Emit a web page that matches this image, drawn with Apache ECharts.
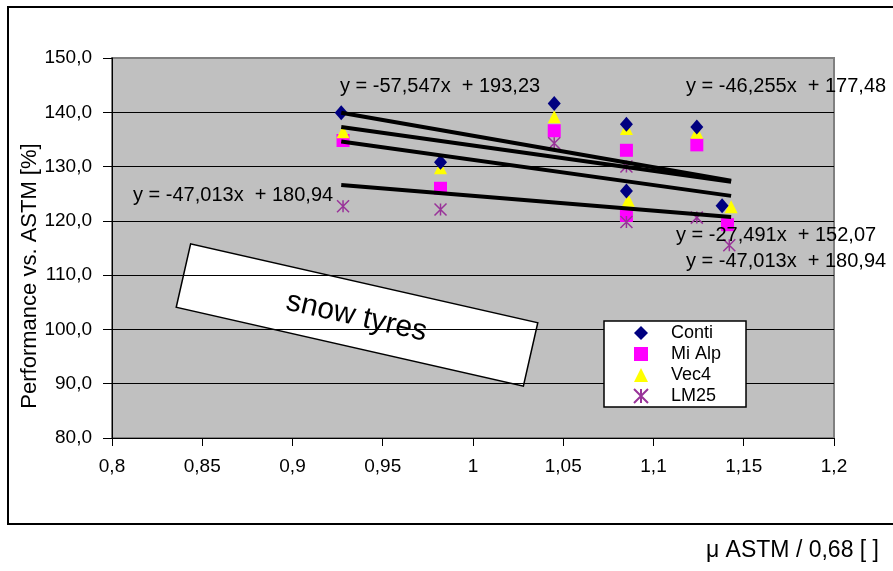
<!DOCTYPE html>
<html><head><meta charset="utf-8">
<script src="https://cdn.jsdelivr.net/npm/echarts@6/dist/echarts.min.js"></script>
<style>html,body{margin:0;padding:0;background:#fff}#c{width:893px;height:571px}</style>
</head><body><div id="c"></div>
<script>
const FONT = '"Liberation Sans", Arial, sans-serif';
const seriesNames = ['Conti', 'Mi Alp', 'Vec4', 'LM25'];
const contiX = [0.927, 0.982, 1.045, 1.085, 1.085, 1.124, 1.138];
const contiY = [139.9, 130.8, 141.6, 137.8, 125.5, 137.3, 122.8];
const miAlpX = [0.928, 0.982, 1.045, 1.085, 1.085, 1.124, 1.141];
const miAlpY = [134.8, 126.0, 136.6, 133.0, 121.0, 134.0, 119.3];
const vec4X = [0.928, 0.982, 1.045, 1.085, 1.086, 1.124, 1.143];
const vec4Y = [136.4, 129.8, 139.2, 137.0, 123.8, 136.3, 122.6];
const lm25X = [0.928, 0.982, 1.045, 1.085, 1.085, 1.124, 1.142];
const lm25Y = [122.7, 122.1, 134.3, 130.0, 119.8, 120.6, 115.5];
// trend line endpoints
const trendX = [0.927, 1.143];
const trendContiY = [139.9, 127.4];
const trendVec4Y = [137.3, 127.2];
const trendMiAlpY = [134.6, 124.6];
const trendLm25Y = [126.6, 120.7];
const equations = [
  'y = -57,547x  + 193,23',
  'y = -46,255x  + 177,48',
  'y = -47,013x  + 180,94',
  'y = -27,491x  + 152,07',
  'y = -47,013x  + 180,94'
];
const xLabel = 'μ ASTM / 0,68 [ ]';
const yLabel = 'Performance vs. ASTM [%]';
const boxText = 'snow tyres';

const zip = (xs, ys) => xs.map((x, i) => [x, ys[i]]);
const chart = echarts.init(document.getElementById('c'), null, {renderer: 'canvas'});
const trend = (ys) => ({
  type: 'line', data: zip(trendX, ys), showSymbol: false, symbol: 'none',
  lineStyle: {color: '#000', width: 4}, z: 5, silent: true, animation: false
});
const eqText = (i, x, y) => ({
  type: 'text', left: x, top: y, z: 100,
  style: {text: equations[i], font: '20px ' + FONT, fill: '#000'}
});
chart.setOption({
  animation: false,
  grid: {left: 112, top: 58, right: 59, bottom: 133, show: true,
         backgroundColor: '#c0c0c0', borderColor: '#808080', borderWidth: 2},
  legend: {
    data: seriesNames, orient: 'vertical', left: 604, top: 321,
    itemWidth: 14, itemHeight: 14, itemGap: 3, padding: [3, 25, 2, 29],
    backgroundColor: '#fff', borderColor: '#000', borderWidth: 1.5,
    textStyle: {fontSize: 18, color: '#000', fontFamily: FONT, padding: [0, 0, 0, 18]}
  },
  xAxis: {
    type: 'value', min: 0.8, max: 1.2, interval: 0.05,
    axisLine: {lineStyle: {color: '#000', width: 1}},
    axisTick: {show: true, length: 8, lineStyle: {color: '#000'}},
    splitLine: {show: false},
    axisLabel: {color: '#000', fontSize: 19, fontFamily: FONT, margin: 19,
      formatter: v => String(+v.toFixed(2)).replace('.', ',')}
  },
  yAxis: {
    type: 'value', min: 80, max: 150, interval: 10,
    axisLine: {show: true, lineStyle: {color: '#000', width: 1}},
    axisTick: {show: true, length: 9, lineStyle: {color: '#000'}},
    splitLine: {show: true, showMinLine: false, showMaxLine: false, lineStyle: {color: '#000', width: 1}},
    axisLabel: {color: '#000', fontSize: 19, fontFamily: FONT, margin: 20,
      formatter: v => v.toFixed(1).replace('.', ',')}
  },
  series: [
    {name: 'Conti', type: 'scatter', data: zip(contiX, contiY), symbol: 'diamond', symbolSize: [13, 15],
     itemStyle: {color: '#000080', opacity: 1}, z: 4},
    {name: 'Mi Alp', type: 'scatter', data: zip(miAlpX, miAlpY), symbol: 'rect', symbolSize: 13,
     itemStyle: {color: '#ff00ff', opacity: 1}, z: 2},
    {name: 'Vec4', type: 'scatter', data: zip(vec4X, vec4Y), symbol: 'triangle', symbolSize: 13,
     itemStyle: {color: '#ffff00', opacity: 1}, z: 3},
    {name: 'LM25', type: 'scatter', data: zip(lm25X, lm25Y),
     symbol: 'path://M0,0L10,10M10,0L0,10M5,0L5,10', symbolSize: 12,
     itemStyle: {color: 'rgba(0,0,0,0)', borderColor: '#993399', borderWidth: 1.5, opacity: 1}, z: 2},
    trend(trendContiY), trend(trendVec4Y), trend(trendMiAlpY), trend(trendLm25Y)
  ],
  graphic: [
    {type: 'rect', shape: {x: 8, y: 7, width: 900, height: 517}, z: -10, silent: true,
     style: {fill: 'none', stroke: '#000', lineWidth: 2}},
    eqText(0, 340, 76), eqText(1, 686, 76), eqText(2, 133, 185), eqText(3, 676, 225), eqText(4, 686, 251),
    {type: 'group', x: 357, y: 315, rotation: -12.8 * Math.PI / 180, z: 90, children: [
      {type: 'rect', shape: {x: -178, y: -32.5, width: 356, height: 65},
       style: {fill: '#fff', stroke: '#000', lineWidth: 1.5}},
      {type: 'text', x: 0, y: 2, style: {text: boxText, font: '30px ' + FONT, fill: '#000',
       align: 'center', verticalAlign: 'middle'}}
    ]},
    {type: 'text', x: 30, y: 276, rotation: Math.PI / 2, z: 100,
     style: {text: yLabel, font: '22px ' + FONT, fill: '#000', align: 'center', verticalAlign: 'middle'}},
    {type: 'text', right: 14, top: 539, z: 100,
     style: {text: xLabel, font: '23px ' + FONT, fill: '#000'}}
  ]
});
</script></body></html>
